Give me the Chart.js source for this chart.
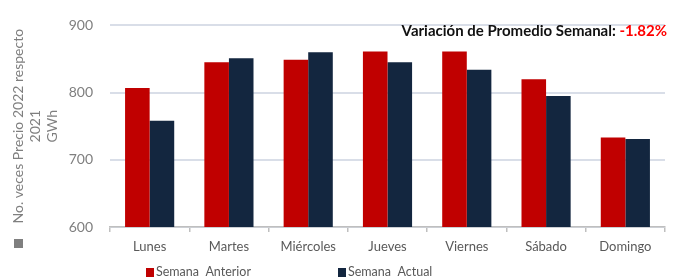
<!DOCTYPE html>
<html>
<head>
<meta charset="utf-8">
<script src="https://cdn.jsdelivr.net/npm/chart.js@4/dist/chart.umd.min.js"></script>
<style>
  html, body { margin: 0; padding: 0; background: #fff; }
  #wrap { width: 678px; height: 280px; }
</style>
</head>
<body>
<div id="wrap"><canvas id="bar-chart" width="678" height="280"></canvas></div>
<script>
var dias = ['Lunes', 'Martes', 'Miércoles', 'Jueves', 'Viernes', 'Sábado', 'Domingo'];
var semanaAnterior = [807, 845, 849, 861, 861, 820, 733];
var semanaActual = [758, 851, 860, 845, 834, 795, 731];
var yTicks = [600, 700, 800, 900];
var variacion = '-1.82%';

var rojo = '#c00000';
var azul = '#13263f';
var fuente = 'Lato, "Open Sans", sans-serif';

// texto de variacion, leyenda inferior y cuadrito gris
var extras = {
    id: 'extras',
    afterDraw: function(chart) {
        var ctx = chart.ctx;
        ctx.save();
        ctx.textBaseline = 'middle';

        ctx.font = 'bold 15px ' + fuente;
        var t1 = 'Variación de Promedio Semanal: ';
        var w1 = ctx.measureText(t1).width;
        var w2 = ctx.measureText(variacion).width;
        var x = 667 - w1 - w2;
        ctx.fillStyle = '#111';
        ctx.fillText(t1, x, 31);
        ctx.fillStyle = '#ff0000';
        ctx.fillText(variacion, x + w1, 31);

        ctx.font = '12.5px ' + fuente;
        var pos = [146, 338];
        chart.data.datasets.forEach(function(ds, i) {
            ctx.fillStyle = ds.backgroundColor;
            ctx.fillRect(pos[i], 268, 8, 9);
            ctx.fillStyle = '#595959';
            ctx.fillText(ds.label, pos[i] + 10, 272);
        });

        ctx.fillStyle = '#7f7f7f';
        ctx.fillRect(14, 239, 9, 9);
        ctx.restore();
    }
};

var ctx = document.getElementById('bar-chart');
var barChart = new Chart(ctx, {
    type: 'bar',
    data: {
        labels: dias,
        datasets: [{
            label: 'Semana  Anterior',
            backgroundColor: rojo,
            data: semanaAnterior
        }, {
            label: 'Semana  Actual',
            backgroundColor: azul,
            data: semanaActual
        }]
    },
    options: {
        responsive: false,
        animation: false,
        layout: { padding: { top: 15, right: 13, bottom: 0, left: 0 } },
        plugins: {
            legend: { display: false },
            tooltip: { enabled: false }
        },
        datasets: {
            bar: { categoryPercentage: 0.62, barPercentage: 1.0 }
        },
        scales: {
            x: {
                grid: { display: true, offset: true, drawOnChartArea: false, tickLength: 5, color: '#bfbfbf', lineWidth: 1.5 },
                border: { color: '#bfbfbf', width: 1.5 },
                ticks: { color: '#595959', font: { family: fuente, size: 13 }, padding: 7 },
                afterFit: function(scale) { scale.height = 53; }
            },
            y: {
                min: 600,
                max: 900,
                afterBuildTicks: function(scale) {
                    scale.ticks = yTicks.map(function(v) { return { value: v }; });
                },
                grid: { color: '#d9dee8', lineWidth: 2, drawTicks: false },
                border: { display: false },
                ticks: { color: '#7f7f7f', font: { family: fuente, size: 14 }, padding: 17 },
                title: {
                    display: true,
                    text: ['No. veces Precio 2022 respecto', '2021', 'GWh'],
                    color: '#7f7f7f',
                    font: { family: fuente, size: 14, lineHeight: 1.2 },
                    padding: { top: 10, bottom: 0 }
                },
                afterFit: function(scale) { scale.width = 110; }
            }
        }
    },
    plugins: [extras]
});
</script>
</body>
</html>
